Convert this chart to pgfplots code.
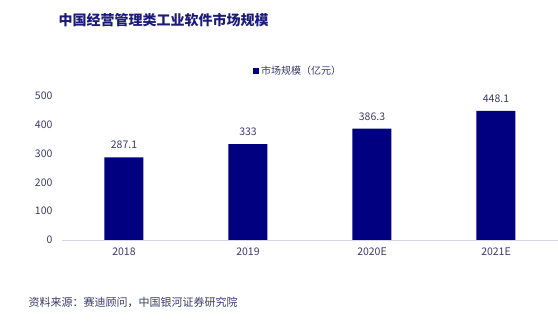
\documentclass[border=0pt]{standalone}
\usepackage{pgfplots}
\pgfplotsset{compat=1.18}
\usepackage{fontspec}
\setmainfont{Noto Sans CJK SC}
\definecolor{barnavy}{HTML}{000080}
\definecolor{txt}{HTML}{3A3A6A}
\definecolor{ttl}{HTML}{1C1C78}
\definecolor{axl}{HTML}{D4D4E2}
\begin{document}
\begin{tikzpicture}[x=1pt,y=1pt]
\path[use as bounding box] (0,0) rectangle (558,328);
\node[anchor=west,text=ttl,font=\bfseries\fontsize{14}{16}\selectfont] at (55,308) {中国经营管理类工业软件市场规模};
\node[anchor=west,text=txt,font=\fontsize{11}{13}\selectfont] at (25,26) {资料来源：赛迪顾问，中国银河证券研究院};
\begin{axis}[
  at={(62pt,88pt)}, anchor=south west,
  scale only axis, width=496pt, height=144pt,
  xmin=-0.5, xmax=3.5, ymin=0, ymax=500,
  ytick={0,100,200,300,400,500},
  xtick=data, xticklabels={2018,2019,2020E,2021E},
  axis x line=bottom, axis y line=left,
  x axis line style={draw=axl, line width=0.8pt, -},
  y axis line style={draw=none},
  major tick length=0pt,
  ticklabel style={text=txt, font=\fontsize{10.5}{12}\selectfont},
  /pgf/number format/assume math mode=true,
  yticklabel style={xshift=-6pt},
  xticklabel style={yshift=-4pt},
  ybar, bar width=39pt,
  nodes near coords,
  nodes near coords style={text=txt, font=\fontsize{10.5}{12}\selectfont, yshift=5pt},
  point meta=explicit symbolic,
  legend style={at={(0.476,1)}, anchor=south, yshift=18pt, draw=none, fill=none,
    font=\fontsize{10}{11}\selectfont, text=txt, inner sep=0pt},
  legend image code/.code={\fill[barnavy] (0pt,-3pt) rectangle (6pt,3pt);},
  clip=false,
]
\addplot[fill=barnavy, draw=none] coordinates {(0,287.1)[287.1] (1,333)[333] (2,386.3)[386.3] (3,448.1)[448.1]};
\addlegendentry{市场规模（亿元）}
\end{axis}
\end{tikzpicture}
\end{document}
